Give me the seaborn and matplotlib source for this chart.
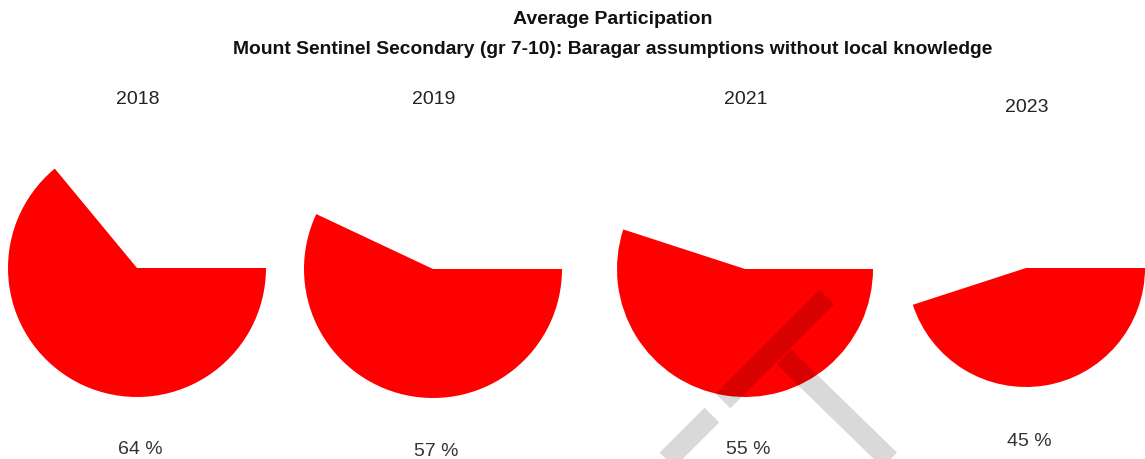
import matplotlib
matplotlib.use("Agg")
import matplotlib.pyplot as plt
import seaborn as sns

# Average participation per survey year (percent)
years = ["2018", "2019", "2021", "2023"]
participation = [64, 57, 55, 45]

title = "Average Participation"
subtitle = "Mount Sentinel Secondary (gr 7-10): Baragar assumptions without local knowledge"

sns.set_theme(style="white")
plt.rcParams["font.family"] = ["Liberation Sans", "DejaVu Sans"]

W, H = 1145, 459
fig = plt.figure(figsize=(W / 100, H / 100), dpi=100)
ax = fig.add_axes([0, 0, 1, 1])

# panel layout in pixel units (origin top-left)
centers_x = [137, 433, 745, 1026]
centers_y = [268, 269, 269, 268]
radii = [129, 129, 128, 119]
year_y = [99, 100, 100, 107]
label_y = [449, 451, 450, 441]

for yr, p, cx, cy, r, ty, ly in zip(years, participation, centers_x, centers_y,
                                    radii, year_y, label_y):
    ax.pie([p / 100], normalize=False, startangle=0, counterclock=False,
           colors=["#ff0000"], radius=r, center=(cx, H - cy),
           wedgeprops=dict(linewidth=0))
    ax.text(cx + 1, H - ty, yr, ha="center", va="center", fontsize=14, color="#222222")
    ax.text(cx + 3, H - ly, f"{p} %", ha="center", va="center", fontsize=14,
            color="#333333")

ax.text(613, H - 20, title, ha="center", va="center", fontsize=14,
        fontweight="bold", color="#111111")
ax.text(613, H - 49, subtitle, ha="center", va="center", fontsize=13.9,
        fontweight="bold", color="#111111")

# faint grey stamp strokes over the lower right
stamp = [((827, 297), (723, 401)), ((784, 357), (900, 470)), ((712, 415), (645, 482))]
for (x0, y0), (x1, y1) in stamp:
    ax.plot([x0, x1], [H - y0, H - y1], color="black", alpha=0.15, lw=15,
            solid_capstyle="butt", zorder=5)

ax.set_xlim(0, W)
ax.set_ylim(0, H)
ax.set_aspect("auto")
ax.axis("off")

fig.savefig("out.png", dpi=100)
